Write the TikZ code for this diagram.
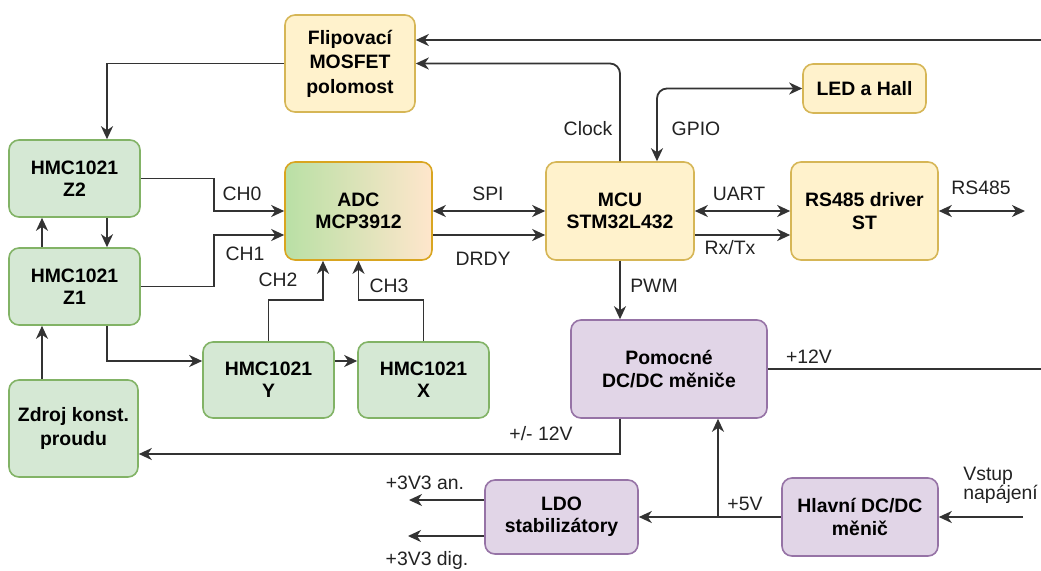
\documentclass[tikz,border=0pt]{standalone}
\usepackage{fontspec}
\setmainfont{Liberation Sans}
\usetikzlibrary{arrows.meta,calc}
\definecolor{gfill}{HTML}{D5E8D4}\definecolor{gdraw}{HTML}{82B366}
\definecolor{yfill}{HTML}{FFF2CC}\definecolor{ydraw}{HTML}{D6B656}
\definecolor{pfill}{HTML}{E1D5E7}\definecolor{pdraw}{HTML}{9673A6}
\definecolor{adcl}{HTML}{B9E0A5}\definecolor{adcr}{HTML}{FFE6CC}\definecolor{adcd}{HTML}{D9A520}
\definecolor{wire}{HTML}{333333}\definecolor{lbltext}{HTML}{222222}
\begin{document}
\begin{tikzpicture}[x=0.5pt,y=-0.5pt,
  box/.style={rounded corners=5pt, line width=0.8pt, align=center, inner sep=0pt,
    font=\fontsize{9.7}{11.2}\selectfont\bfseries},
  gbox/.style={box, fill=gfill, draw=gdraw},
  ybox/.style={box, fill=yfill, draw=ydraw},
  pbox/.style={box, fill=pfill, draw=pdraw},
  tip/.tip={Stealth[length=6.5pt,width=6pt,inset=2pt]},
  arr/.style={draw=wire, line width=0.9pt, -tip},
  darr/.style={draw=wire, line width=0.9pt, tip-tip},
  lbl/.style={font=\fontsize{9.7}{11.2}\selectfont, text=lbltext, inner sep=0pt}
]
\useasboundingbox (0,0) rectangle (1041,570);
\clip (0,0) rectangle (1041,570);

% boxes
\node[ybox, minimum width=65pt, minimum height=48.5pt] (flip) at (350,63.5) {Flipovací\\[1pt]MOSFET\\[1pt]polomost};
\node[gbox, minimum width=65.5pt, minimum height=38.5pt] (z2) at (74.5,178.5) {HMC1021\\Z2};
\node[gbox, minimum width=65.5pt, minimum height=38.5pt] (z1) at (74.5,286.5) {HMC1021\\Z1};
\node[gbox, minimum width=64.5pt, minimum height=48.5pt] (zdroj) at (73.5,428.5) {Zdroj konst.\\[1pt]proudu};
\node[box, left color=adcl, right color=adcr, draw=adcd, minimum width=73.5pt, minimum height=49pt] (adc) at (358.5,211) {ADC\\MCP3912};
\node[gbox, minimum width=65.5pt, minimum height=38pt] (hy) at (268.5,380) {HMC1021\\Y};
\node[gbox, minimum width=65.5pt, minimum height=38pt] (hx) at (423.5,380) {HMC1021\\X};
\node[ybox, minimum width=74pt, minimum height=49pt] (mcu) at (620,211) {MCU\\STM32L432};
\node[ybox, minimum width=61.5pt, minimum height=24.5pt] (led) at (864.5,88.5) {LED a Hall};
\node[ybox, minimum width=73.5pt, minimum height=49pt] (rs) at (864.5,211) {RS485 driver\\ST};
\node[pbox, minimum width=98pt, minimum height=49pt] (pom) at (669,369) {Pomocné\\DC/DC měniče};
\node[pbox, minimum width=78pt, minimum height=39pt] (hlav) at (860,517) {Hlavní DC/DC\\měnič};
\node[pbox, minimum width=76.5pt, minimum height=37pt] (ldo) at (561.5,517) {LDO\\stabilizátory};

% free ends
\coordinate (rtop) at (1042,40);
\coordinate (rbot) at (1042,369);
\coordinate (rsout) at (1025,211);
\coordinate (vin) at (1023,517);
\coordinate (j5) at (718,517);
\coordinate (o1) at (409,500);
\coordinate (o2) at (408,536);

% connectors
\draw[arr] (pom.east) -- (rbot) -- (rtop) -- (flip.east |- rtop);
\draw[arr, rounded corners=5pt] (mcu.north) |- (flip.east);
\draw[darr, rounded corners=5pt] ([xshift=18.5pt]mcu.north) |- (led.west);
\draw[arr] (flip.west) -| ([xshift=16.25pt]z2.north);
\draw[arr] ([xshift=16.25pt]z2.south) -- ([xshift=16.25pt]z1.north);
\draw[arr] ([xshift=-16.25pt]z1.north) -- ([xshift=-16.25pt]z2.south);
\draw[arr] ([xshift=-15.75pt]zdroj.north) -- ([xshift=-16.25pt]z1.south);
\draw[arr] (z2.east) -- ++(73,0) |- (adc.west);
\draw[arr] (z1.east) -- ++(73,0) |- ([yshift=-12pt]adc.west);
\draw[arr] (hy.north) -- ++(0,-41) -| ([xshift=-17.75pt]adc.south);
\draw[arr] (hx.north) -- ++(0,-41) -| (adc.south);
\draw[arr] ([xshift=16.25pt]z1.south) |- ([yshift=9.5pt]hy.west);
\draw[arr] ([yshift=9.5pt]hy.east) -- ([yshift=9.5pt]hx.west);
\draw[darr] (adc.east) -- (mcu.west);
\draw[arr] ([yshift=-12pt]adc.east) -- ([yshift=-12pt]mcu.west);
\draw[darr] (mcu.east) -- (rs.west);
\draw[arr] ([yshift=-12pt]mcu.east) -- ([yshift=-12pt]rs.west);
\draw[darr] (rs.east) -- (rsout);
\draw[arr] (mcu.south) -- (pom.north -| mcu.south);
\draw[arr] (pom.south -| mcu.south) |- ([yshift=-12.75pt]zdroj.east);
\draw[arr] (vin) -- (hlav.east);
\draw[arr] (hlav.west) -- (ldo.east);
\draw[arr] (j5) -- (pom.south -| j5);
\draw[arr] (ldo.west |- o1) -- (o1);
\draw[arr] (ldo.west |- o2) -- (o2);

% labels
\node[lbl] (lch0) at (242,194) {CH0};
\node[lbl] (lch1) at (245,254) {CH1};
\node[lbl] (lch2) at (278,280) {CH2};
\node[lbl] (lch3) at (389,286) {CH3};
\node[lbl] (lspi) at (488,194) {SPI};
\node[lbl] (ldrdy) at (483,259) {DRDY};
\node[lbl] (lclk) at (588,129) {Clock};
\node[lbl] (lgpio) at (696,129) {GPIO};
\node[lbl] (luart) at (739,194) {UART};
\node[lbl] (lrx) at (730,248) {Rx/Tx};
\node[lbl] (lrs) at (981,188) {RS485};
\node[lbl] (lpwm) at (654,286) {PWM};
\node[lbl] (l12) at (809,357) {+12V};
\node[lbl] (lpm) at (541,434) {+/- 12V};
\node[lbl] (l5) at (745,504) {+5V};
\node[lbl, align=left, anchor=west, font=\fontsize{9.7}{9.5}\selectfont] (lvin) at (963,485) {Vstup\\napájení};
\node[lbl] (lan) at (425,483) {+3V3 an.};
\node[lbl] (ldig) at (427,560) {+3V3 dig.};
\end{tikzpicture}
\end{document}
